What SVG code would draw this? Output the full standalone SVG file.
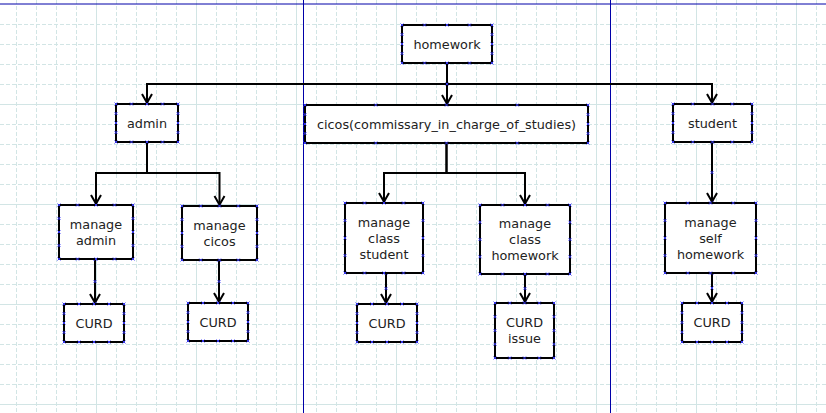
<svg xmlns="http://www.w3.org/2000/svg" width="826" height="413" viewBox="0 0 826 413">
<style>
.gd{stroke:#d2e5e5;stroke-width:1;stroke-dasharray:4 2;fill:none}
.gs{stroke:#d2e5e5;stroke-width:1;fill:none}
.pb{stroke:#0000a8;stroke-width:1;fill:none}
.box{fill:#fff;stroke:#000;stroke-width:2;marker-start:url(#cp);marker-mid:url(#cp)}
.con{fill:none;stroke:#000;stroke-width:2;marker-end:url(#arr)}
.mid{fill:none;stroke:none;marker-mid:url(#cp)}
text{font-family:"DejaVu Sans","Liberation Sans",sans-serif;font-size:12.8px;fill:#222;text-anchor:middle}
</style>
<defs>
<marker id="cp" markerUnits="userSpaceOnUse" markerWidth="6" markerHeight="6" viewBox="-3 -3 6 6" refX="0" refY="0" orient="0" overflow="visible">
<path d="M-1.5,-1.5L1.5,1.5M-1.5,1.5L1.5,-1.5" stroke="#3a3aff" stroke-width="0.9" fill="none"/>
</marker>
<marker id="arr" markerUnits="userSpaceOnUse" markerWidth="16" markerHeight="16" viewBox="-12 -8 16 16" refX="0" refY="0" orient="auto" overflow="visible">
<path d="M-10,-5L-1.2,0L-10,5" fill="none" stroke="#000" stroke-width="2"/>
</marker>
</defs>
<rect width="826" height="413" fill="#fff"/>
<g id="grid">
<path class="gd" d="M16.5 0V413M36.5 0V413M56.5 0V413M76.5 0V413M116.5 0V413M136.5 0V413M156.5 0V413M176.5 0V413M216.5 0V413M236.5 0V413M256.5 0V413M276.5 0V413M316.5 0V413M336.5 0V413M356.5 0V413M376.5 0V413M416.5 0V413M436.5 0V413M456.5 0V413M476.5 0V413M516.5 0V413M536.5 0V413M556.5 0V413M576.5 0V413M616.5 0V413M636.5 0V413M656.5 0V413M676.5 0V413M716.5 0V413M736.5 0V413M756.5 0V413M776.5 0V413M816.5 0V413"/>
<path class="gd" d="M0 24.5H826M0 44.5H826M0 64.5H826M0 84.5H826M0 124.5H826M0 144.5H826M0 164.5H826M0 184.5H826M0 224.5H826M0 244.5H826M0 264.5H826M0 284.5H826M0 324.5H826M0 344.5H826M0 364.5H826M0 384.5H826"/>
<path class="gs" d="M96.5 0V413M196.5 0V413M296.5 0V413M396.5 0V413M496.5 0V413M596.5 0V413M696.5 0V413M796.5 0V413M0 104.5H826M0 204.5H826M0 304.5H826M0 404.5H826"/>
<path class="pb" d="M0 4H826M303.5 0V413M610.5 0V413"/>
</g>
<g id="connectors">
<path class="con" d="M447 63V84H147V104"/>
<path class="con" d="M447 63V105"/>
<path class="con" d="M447 63V84H712V104"/>
<path class="con" d="M147 142V173H96V205"/>
<path class="con" d="M147 142V173H219.5V206"/>
<path class="con" d="M446.5 143V173H384V203"/>
<path class="con" d="M446.5 143V173H525V205"/>
<path class="con" d="M712 142V203"/>
<path class="con" d="M95 259V304"/>
<path class="con" d="M219 260V303"/>
<path class="con" d="M386 273V304"/>
<path class="con" d="M525 274V303"/>
<path class="con" d="M712 273V303"/>
<path class="mid" d="M447 63V84V105M712 142V172.5V203M95 259V281.5V304M219 260V281.5V303M386 273V288.5V304M525 274V288.5V303M712 273V288V303"/>
</g>
<g id="n-homework">
<path class="box" d="M402 25h22.5h22.5h22.5h22.5v9.5v9.5v9.5v9.5h-22.5h-22.5h-22.5h-22.5v-9.5v-9.5v-9.5z"/>
<text x="447" y="48.6">homework</text>
</g>
<g id="n-admin">
<path class="box" d="M116 104h15.5h15.5h15.5h15.5v9.5v9.5v9.5v9.5h-15.5h-15.5h-15.5h-15.5v-9.5v-9.5v-9.5z"/>
<text x="147" y="127.6">admin</text>
</g>
<g id="n-cicos">
<path class="box" d="M305 105h70.75h70.75h70.75h70.75v9.5v9.5v9.5v9.5h-70.75h-70.75h-70.75h-70.75v-9.5v-9.5v-9.5z"/>
<text x="446.5" y="128.6">cicos(commissary_in_charge_of_studies)</text>
</g>
<g id="n-student">
<path class="box" d="M673 104h19.75h19.75h19.75h19.75v9.5v9.5v9.5v9.5h-19.75h-19.75h-19.75h-19.75v-9.5v-9.5v-9.5z"/>
<text x="712.5" y="127.6">student</text>
</g>
<g id="n-manage-admin">
<path class="box" d="M59 205h18.5h18.5h18.5h18.5v13.5v13.5v13.5v13.5h-18.5h-18.5h-18.5h-18.5v-13.5v-13.5v-13.5z"/>
<text x="96" y="228.6">manage</text>
<text x="96" y="244.6">admin</text>
</g>
<g id="n-manage-cicos">
<path class="box" d="M182 206h18.75h18.75h18.75h18.75v13.5v13.5v13.5v13.5h-18.75h-18.75h-18.75h-18.75v-13.5v-13.5v-13.5z"/>
<text x="219.5" y="229.6">manage</text>
<text x="219.5" y="245.6">cicos</text>
</g>
<g id="n-manage-class-student">
<path class="box" d="M345 203h19.5h19.5h19.5h19.5v17.5v17.5v17.5v17.5h-19.5h-19.5h-19.5h-19.5v-17.5v-17.5v-17.5z"/>
<text x="384" y="226.6">manage</text>
<text x="384" y="242.6">class</text>
<text x="384" y="258.6">student</text>
</g>
<g id="n-manage-class-homework">
<path class="box" d="M480 205h22.5h22.5h22.5h22.5v17.25v17.25v17.25v17.25h-22.5h-22.5h-22.5h-22.5v-17.25v-17.25v-17.25z"/>
<text x="525" y="228">manage</text>
<text x="525" y="244">class</text>
<text x="525" y="260">homework</text>
</g>
<g id="n-manage-self-homework">
<path class="box" d="M665 203h22.75h22.75h22.75h22.75v17.5v17.5v17.5v17.5h-22.75h-22.75h-22.75h-22.75v-17.5v-17.5v-17.5z"/>
<text x="710.5" y="226.6">manage</text>
<text x="710.5" y="242.6">self</text>
<text x="710.5" y="258.6">homework</text>
</g>
<g id="n-curd-admin">
<path class="box" d="M64 304h15h15h15h15v9.5v9.5v9.5v9.5h-15h-15h-15h-15v-9.5v-9.5v-9.5z"/>
<text x="94" y="327.6">CURD</text>
</g>
<g id="n-curd-cicos">
<path class="box" d="M188 303h15h15h15h15v9.5v9.5v9.5v9.5h-15h-15h-15h-15v-9.5v-9.5v-9.5z"/>
<text x="218" y="326.6">CURD</text>
</g>
<g id="n-curd-class-student">
<path class="box" d="M357 304h15h15h15h15v9.5v9.5v9.5v9.5h-15h-15h-15h-15v-9.5v-9.5v-9.5z"/>
<text x="387" y="327.6">CURD</text>
</g>
<g id="n-curd-issue">
<path class="box" d="M495 303h14.75h14.75h14.75h14.75v13.75v13.75v13.75v13.75h-14.75h-14.75h-14.75h-14.75v-13.75v-13.75v-13.75z"/>
<text x="524.5" y="327.1">CURD</text>
<text x="524.5" y="343.1">issue</text>
</g>
<g id="n-curd-self">
<path class="box" d="M682 303h15h15h15h15v9.75v9.75v9.75v9.75h-15h-15h-15h-15v-9.75v-9.75v-9.75z"/>
<text x="712" y="327.1">CURD</text>
</g>
</svg>
